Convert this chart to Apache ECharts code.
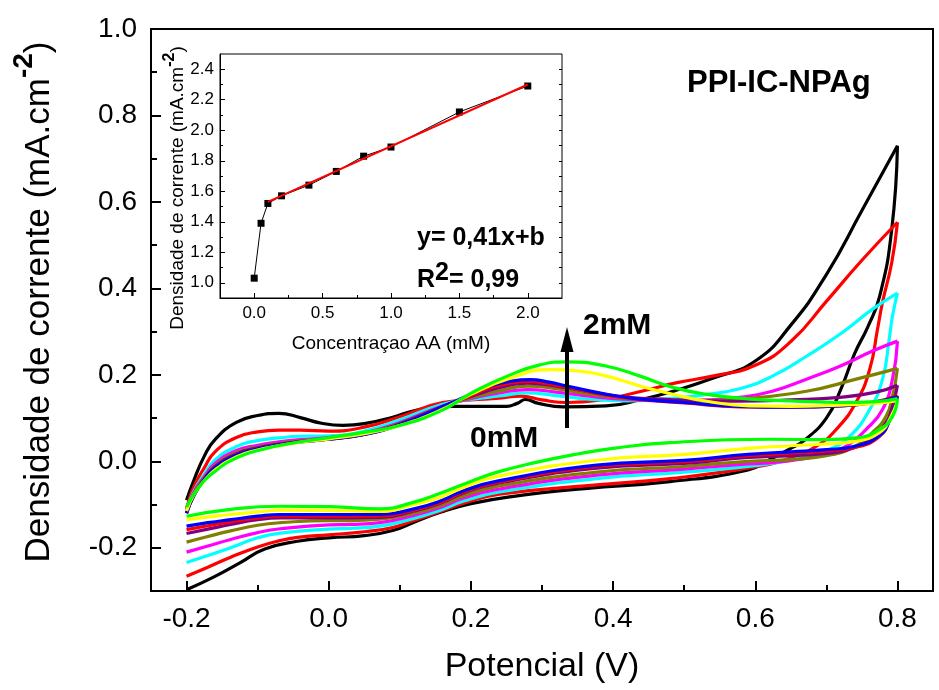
<!DOCTYPE html>
<html><head><meta charset="utf-8">
<script src="https://cdn.jsdelivr.net/npm/echarts@6/dist/echarts.min.js"></script>
<style>html,body{margin:0;padding:0;background:#fff}#c{width:939px;height:690px}</style>
</head><body><div id="c"></div>
<script>
// ---------- DATA ----------
const concentrationLabels = ['0 mM','0.05 mM','0.1 mM','0.2 mM','0.4 mM','0.6 mM','0.8 mM','1.0 mM','1.5 mM','2.0 mM'];

// forward (anodic) scans and reverse scans: [potential V, current density mA.cm-2]
const fwd0 = [[-0.2,-0.09],[-0.19,-0.045],[-0.175,0.012],[-0.16,0.05],[-0.13,0.09],[-0.1,0.106],[-0.07,0.111],[-0.04,0.101],[-0.01,0.088],[0.02,0.083],[0.05,0.087],[0.09,0.102],[0.12,0.117],[0.16,0.127],[0.2,0.127],[0.25,0.127],[0.265,0.134],[0.277,0.143],[0.295,0.134],[0.33,0.126],[0.39,0.128],[0.44,0.143],[0.49,0.165],[0.54,0.192],[0.6,0.232],[0.65,0.315],[0.7,0.432],[0.75,0.58],[0.8,0.73]];
const rev0 = [[0.8,0.73],[0.792,0.537],[0.775,0.382],[0.758,0.31],[0.74,0.25],[0.72,0.165],[0.7,0.1],[0.67,0.05],[0.648,0.028],[0.62,0.004],[0.59,-0.02],[0.48,-0.047],[0.36,-0.063],[0.26,-0.081],[0.2,-0.098],[0.157,-0.118],[0.12,-0.141],[0.09,-0.16],[0.05,-0.172],[0.0,-0.177],[-0.044,-0.185],[-0.09,-0.203],[-0.125,-0.235],[-0.162,-0.268],[-0.2,-0.297]];

const fwd005 = [[-0.2,-0.11],[-0.19,-0.06],[-0.175,-0.015],[-0.16,0.022],[-0.13,0.055],[-0.1,0.068],[-0.07,0.072],[-0.04,0.072],[0.0,0.07],[0.05,0.079],[0.1,0.103],[0.16,0.136],[0.2,0.142],[0.24,0.146],[0.27,0.151],[0.3,0.142],[0.335,0.136],[0.39,0.144],[0.44,0.162],[0.49,0.182],[0.54,0.197],[0.6,0.222],[0.65,0.277],[0.7,0.37],[0.75,0.465],[0.8,0.553]];
const rev005 = [[0.8,0.553],[0.792,0.46],[0.779,0.368],[0.772,0.306],[0.761,0.213],[0.742,0.137],[0.714,0.074],[0.686,0.035],[0.65,0.008],[0.6,-0.013],[0.48,-0.04],[0.36,-0.057],[0.24,-0.076],[0.19,-0.097],[0.157,-0.116],[0.12,-0.137],[0.09,-0.153],[0.05,-0.163],[0.0,-0.17],[-0.044,-0.176],[-0.07,-0.184],[-0.1,-0.198],[-0.138,-0.222],[-0.17,-0.245],[-0.2,-0.266]];

const fwd01 = [[-0.2,-0.115],[-0.19,-0.07],[-0.175,-0.03],[-0.16,0.003],[-0.13,0.034],[-0.1,0.048],[-0.07,0.054],[-0.04,0.058],[0.0,0.059],[0.05,0.07],[0.1,0.096],[0.16,0.132],[0.2,0.143],[0.24,0.151],[0.28,0.158],[0.32,0.152],[0.37,0.143],[0.42,0.14],[0.47,0.144],[0.52,0.152],[0.578,0.168],[0.624,0.197],[0.672,0.243],[0.72,0.295],[0.765,0.352],[0.8,0.389]];
const rev01 = [[0.8,0.389],[0.793,0.336],[0.789,0.29],[0.779,0.19],[0.761,0.12],[0.733,0.058],[0.705,0.028],[0.66,0.006],[0.6,-0.01],[0.5,-0.025],[0.377,-0.04],[0.24,-0.071],[0.19,-0.092],[0.157,-0.113],[0.12,-0.132],[0.072,-0.15],[0.03,-0.155],[0.0,-0.157],[-0.068,-0.166],[-0.1,-0.177],[-0.138,-0.2],[-0.17,-0.218],[-0.2,-0.234]];

const fwd02 = [[-0.2,-0.115],[-0.19,-0.072],[-0.175,-0.035],[-0.16,-0.005],[-0.13,0.025],[-0.1,0.037],[-0.07,0.045],[-0.04,0.05],[0.0,0.055],[0.05,0.066],[0.1,0.09],[0.16,0.128],[0.2,0.145],[0.24,0.158],[0.28,0.166],[0.32,0.16],[0.37,0.15],[0.42,0.143],[0.48,0.14],[0.53,0.142],[0.578,0.148],[0.624,0.162],[0.672,0.19],[0.719,0.22],[0.765,0.255],[0.8,0.278]];
const rev02 = [[0.8,0.278],[0.793,0.19],[0.779,0.12],[0.756,0.074],[0.728,0.035],[0.69,0.013],[0.63,-0.002],[0.59,-0.006],[0.5,-0.018],[0.377,-0.032],[0.237,-0.065],[0.19,-0.085],[0.157,-0.107],[0.12,-0.125],[0.072,-0.142],[0.03,-0.146],[0.0,-0.147],[-0.068,-0.156],[-0.1,-0.165],[-0.138,-0.181],[-0.17,-0.196],[-0.2,-0.21]];

const fwd04 = [[-0.2,-0.118],[-0.19,-0.075],[-0.175,-0.038],[-0.16,-0.01],[-0.13,0.02],[-0.1,0.033],[-0.07,0.041],[-0.04,0.047],[0.0,0.053],[0.05,0.064],[0.1,0.088],[0.16,0.127],[0.2,0.147],[0.24,0.163],[0.28,0.174],[0.32,0.168],[0.37,0.155],[0.42,0.145],[0.48,0.14],[0.53,0.14],[0.578,0.144],[0.672,0.162],[0.742,0.19],[0.8,0.215]];
const rev04 = [[0.8,0.215],[0.793,0.15],[0.784,0.104],[0.765,0.067],[0.737,0.032],[0.7,0.013],[0.65,0.004],[0.59,0.0],[0.5,-0.012],[0.377,-0.025],[0.237,-0.058],[0.19,-0.08],[0.157,-0.102],[0.12,-0.12],[0.072,-0.134],[0.03,-0.137],[0.0,-0.137],[-0.068,-0.142],[-0.1,-0.148],[-0.138,-0.161],[-0.17,-0.174],[-0.2,-0.187]];

const fwd06 = [[-0.2,-0.12],[-0.19,-0.078],[-0.175,-0.04],[-0.16,-0.012],[-0.13,0.017],[-0.1,0.031],[-0.07,0.04],[-0.04,0.046],[0.0,0.052],[0.05,0.063],[0.1,0.087],[0.16,0.127],[0.2,0.15],[0.24,0.17],[0.28,0.181],[0.32,0.174],[0.37,0.16],[0.42,0.148],[0.48,0.143],[0.53,0.14],[0.578,0.139],[0.65,0.142],[0.719,0.148],[0.77,0.16],[0.8,0.176]];
const rev06 = [[0.8,0.176],[0.793,0.127],[0.784,0.09],[0.765,0.058],[0.737,0.03],[0.7,0.018],[0.65,0.013],[0.59,0.009],[0.5,-0.005],[0.377,-0.016],[0.237,-0.051],[0.19,-0.073],[0.157,-0.097],[0.12,-0.115],[0.072,-0.13],[0.03,-0.131],[0.0,-0.131],[-0.068,-0.131],[-0.1,-0.135],[-0.138,-0.146],[-0.17,-0.157],[-0.2,-0.167]];

const fwd08 = [[-0.2,-0.12],[-0.19,-0.08],[-0.175,-0.042],[-0.16,-0.015],[-0.13,0.014],[-0.1,0.029],[-0.07,0.038],[-0.04,0.045],[0.0,0.051],[0.05,0.062],[0.1,0.085],[0.16,0.125],[0.2,0.152],[0.227,0.17],[0.255,0.181],[0.283,0.185],[0.31,0.179],[0.335,0.171],[0.391,0.153],[0.438,0.143],[0.5,0.135],[0.578,0.126],[0.65,0.125],[0.719,0.128],[0.77,0.138],[0.8,0.152]];
const rev08 = [[0.8,0.152],[0.79,0.1],[0.775,0.058],[0.74,0.032],[0.7,0.024],[0.65,0.019],[0.59,0.013],[0.5,-0.001],[0.377,-0.012],[0.237,-0.049],[0.19,-0.071],[0.157,-0.095],[0.12,-0.113],[0.072,-0.126],[0.03,-0.126],[0.0,-0.126],[-0.068,-0.126],[-0.1,-0.131],[-0.138,-0.14],[-0.17,-0.149],[-0.2,-0.158]];

const fwd10 = [[-0.2,-0.12],[-0.19,-0.08],[-0.175,-0.042],[-0.16,-0.015],[-0.13,0.014],[-0.1,0.029],[-0.07,0.038],[-0.04,0.045],[0.0,0.051],[0.05,0.062],[0.1,0.085],[0.16,0.126],[0.2,0.155],[0.227,0.174],[0.255,0.185],[0.283,0.189],[0.31,0.183],[0.335,0.174],[0.391,0.155],[0.438,0.144],[0.5,0.136],[0.578,0.127],[0.65,0.125],[0.719,0.128],[0.77,0.137],[0.8,0.15]];
const rev10 = [[0.8,0.15],[0.79,0.1],[0.775,0.06],[0.74,0.035],[0.7,0.027],[0.65,0.022],[0.59,0.016],[0.5,0.002],[0.377,-0.009],[0.237,-0.046],[0.19,-0.068],[0.157,-0.092],[0.12,-0.11],[0.072,-0.123],[0.03,-0.123],[0.0,-0.123],[-0.068,-0.123],[-0.1,-0.127],[-0.138,-0.135],[-0.17,-0.142],[-0.2,-0.15]];

const fwd15 = [[-0.2,-0.115],[-0.19,-0.078],[-0.175,-0.045],[-0.16,-0.02],[-0.13,0.01],[-0.1,0.026],[-0.07,0.036],[-0.04,0.044],[0.0,0.052],[0.05,0.064],[0.1,0.083],[0.157,0.118],[0.2,0.155],[0.251,0.19],[0.311,0.212],[0.35,0.209],[0.391,0.197],[0.438,0.174],[0.484,0.155],[0.532,0.139],[0.592,0.128],[0.65,0.127],[0.719,0.13],[0.77,0.134],[0.8,0.14]];
const rev15 = [[0.8,0.14],[0.79,0.1],[0.775,0.067],[0.74,0.046],[0.7,0.04],[0.65,0.036],[0.59,0.03],[0.5,0.016],[0.38,0.003],[0.237,-0.035],[0.19,-0.06],[0.157,-0.083],[0.12,-0.1],[0.072,-0.116],[0.03,-0.115],[0.0,-0.114],[-0.068,-0.113],[-0.1,-0.117],[-0.138,-0.123],[-0.17,-0.129],[-0.2,-0.135]];

const fwd20 = [[-0.2,-0.106],[-0.185,-0.065],[-0.162,-0.026],[-0.128,0.009],[-0.092,0.028],[-0.044,0.044],[0.002,0.055],[0.049,0.067],[0.096,0.081],[0.157,0.116],[0.203,0.16],[0.251,0.197],[0.297,0.223],[0.335,0.23],[0.391,0.22],[0.438,0.197],[0.484,0.171],[0.532,0.155],[0.592,0.144],[0.65,0.14],[0.719,0.136],[0.77,0.138],[0.8,0.145]];
const rev20 = [[0.8,0.145],[0.793,0.104],[0.775,0.074],[0.742,0.054],[0.7,0.05],[0.62,0.051],[0.48,0.043],[0.4,0.03],[0.35,0.017],[0.29,-0.003],[0.237,-0.025],[0.199,-0.047],[0.157,-0.074],[0.119,-0.095],[0.072,-0.11],[0.002,-0.105],[-0.068,-0.104],[-0.138,-0.111],[-0.2,-0.127]];

// inset: current vs ascorbic acid concentration
const aaConc = [0, 0.05, 0.1, 0.2, 0.4, 0.6, 0.8, 1.0, 1.5, 2.0];
const peakCurrent = [1.03, 1.39, 1.52, 1.57, 1.64, 1.73, 1.83, 1.89, 2.12, 2.29];
const fitLine = [[0.1, 1.53], [2.0, 2.30]];

// tick values
const mainXMajor = [-0.2, 0.0, 0.2, 0.4, 0.6, 0.8];
const mainXMinor = [-0.1, 0.1, 0.3, 0.5, 0.7];
const mainYMajor = [-0.2, 0.0, 0.2, 0.4, 0.6, 0.8, 1.0];
const mainYMinor = [-0.1, 0.1, 0.3, 0.5, 0.7, 0.9];
const insetXMajor = [0.0, 0.5, 1.0, 1.5, 2.0];
const insetXMinor = [0.25, 0.75, 1.25, 1.75];
const insetYMajor = [1.0, 1.2, 1.4, 1.6, 1.8, 2.0, 2.2, 2.4];
const insetYMinor = [1.1, 1.3, 1.5, 1.7, 1.9, 2.1, 2.3];

// ---------- STYLE ----------
const cvColors = ['#000000','#ff0000','#00ffff','#ff00ff','#808000','#800080','#ff0000','#0000ff','#ffff00','#00ff00'];
const F = "'Liberation Sans', Arial, Helvetica, sans-serif";

const cvFwd = [fwd0, fwd005, fwd01, fwd02, fwd04, fwd06, fwd08, fwd10, fwd15, fwd20];
const cvRev = [rev0, rev005, rev01, rev02, rev04, rev06, rev08, rev10, rev15, rev20];

const series = [];
cvFwd.forEach((d, i) => {
  [d, cvRev[i]].forEach(branch => {
    series.push({
      type: 'line', name: concentrationLabels[i], xAxisIndex: 0, yAxisIndex: 0,
      data: branch, smooth: 0.5, showSymbol: false, symbol: 'none',
      lineStyle: { color: cvColors[i], width: 3.2, join: 'round' }, itemStyle: { color: cvColors[i] },
      silent: true
    });
  });
});
series.push({
  type: 'line', xAxisIndex: 2, yAxisIndex: 2,
  data: aaConc.map((c, i) => [c, peakCurrent[i]]),
  symbol: 'rect', symbolSize: 7, lineStyle: { color: '#000', width: 1 }, itemStyle: { color: '#000' }, z: 5
});
series.push({
  type: 'line', xAxisIndex: 2, yAxisIndex: 2, data: fitLine, symbol: 'none',
  lineStyle: { color: '#ff0000', width: 2 }, z: 6
});

const fmt1 = v => v.toFixed(1);
const hiddenLine = { show: false, onZero: false };
function axis(extra) {
  return Object.assign({
    type: 'value', splitLine: { show: false },
    axisLine: { show: true, onZero: false, lineStyle: { color: '#000', width: 2 } },
  }, extra);
}

const option = {
  animation: false,
  backgroundColor: '#fff',
  grid: [
    { left: 151, top: 29, right: 6, bottom: 99, show: true, borderColor: '#000', borderWidth: 2, containLabel: false },
    { left: 220, top: 54, right: 377, bottom: 392, show: true, borderColor: '#000', borderWidth: 1, backgroundColor: '#fff', containLabel: false }
  ],
  xAxis: [
    axis({ gridIndex: 0, position: 'bottom', min: -0.25, max: 0.85,
      axisTick: { show: true, inside: true, length: 10, lineStyle: { width: 2, color: '#000' }, customValues: mainXMajor },
      axisLabel: { customValues: mainXMajor, formatter: fmt1, fontSize: 28, fontFamily: F, color: '#000', margin: 14 } }),
    axis({ gridIndex: 0, position: 'bottom', min: -0.25, max: 0.85, axisLine: hiddenLine,
      axisTick: { show: true, inside: true, length: 6, lineStyle: { width: 2, color: '#000' }, customValues: mainXMinor },
      axisLabel: { show: false } }),
    axis({ gridIndex: 1, position: 'bottom', min: -0.25, max: 2.25, axisLine: { show: true, onZero: false, lineStyle: { color: '#000', width: 1 } },
      axisTick: { show: true, inside: true, length: 5, lineStyle: { width: 1, color: '#000' }, customValues: insetXMajor },
      axisLabel: { customValues: insetXMajor, formatter: fmt1, fontSize: 17, fontFamily: F, color: '#000', margin: 7 } }),
    axis({ gridIndex: 1, position: 'bottom', min: -0.25, max: 2.25, axisLine: hiddenLine,
      axisTick: { show: true, inside: true, length: 3, lineStyle: { width: 1, color: '#000' }, customValues: insetXMinor },
      axisLabel: { show: false } })
  ],
  yAxis: [
    axis({ gridIndex: 0, position: 'left', min: -0.3, max: 1.0,
      axisTick: { show: true, inside: true, length: 10, lineStyle: { width: 2, color: '#000' }, customValues: mainYMajor },
      axisLabel: { customValues: mainYMajor, formatter: fmt1, fontSize: 28, fontFamily: F, color: '#000', margin: 14 } }),
    axis({ gridIndex: 0, position: 'left', min: -0.3, max: 1.0, axisLine: hiddenLine,
      axisTick: { show: true, inside: true, length: 6, lineStyle: { width: 2, color: '#000' }, customValues: mainYMinor },
      axisLabel: { show: false } }),
    axis({ gridIndex: 1, position: 'left', min: 0.9, max: 2.5, axisLine: { show: true, onZero: false, lineStyle: { color: '#000', width: 1 } },
      axisTick: { show: true, inside: true, length: 5, lineStyle: { width: 1, color: '#000' }, customValues: insetYMajor },
      axisLabel: { customValues: insetYMajor, formatter: fmt1, fontSize: 17, fontFamily: F, color: '#000', margin: 6 } }),
    axis({ gridIndex: 1, position: 'left', min: 0.9, max: 2.5, axisLine: hiddenLine,
      axisTick: { show: true, inside: true, length: 3, lineStyle: { width: 1, color: '#000' }, customValues: insetYMinor },
      axisLabel: { show: false } }),
    axis({ gridIndex: 1, position: 'right', min: 0.9, max: 2.5, axisLine: hiddenLine,
      axisTick: { show: true, inside: true, length: 3, lineStyle: { width: 1, color: '#000' }, customValues: insetYMajor.concat(insetYMinor) },
      axisLabel: { show: false } })
  ],
  series: series,
  graphic: [
    { type: 'text', x: 39, y: 302, rotation: Math.PI / 2, z: 100,
      style: { text: '{a|Densidade de corrente (mA.cm}{s|-2}{a|)}', align: 'center', verticalAlign: 'middle',
        rich: { a: { fontSize: 35, fontFamily: F, fill: '#000', verticalAlign: 'middle' },
                s: { fontSize: 28, fontWeight: 'bold', fontFamily: F, fill: '#000', padding: [0, 0, 30, 0] } } } },
    { type: 'text', x: 542, y: 667, z: 100,
      style: { text: 'Potencial (V)', fontSize: 34, fontFamily: F, fill: '#000', align: 'center', verticalAlign: 'middle' } },
    { type: 'text', x: 178, y: 188, rotation: Math.PI / 2, z: 100,
      style: { text: '{a|Densidade de corrente (mA.cm}{s|-2}{a|)}', align: 'center', verticalAlign: 'middle',
        rich: { a: { fontSize: 19, fontFamily: F, fill: '#000', verticalAlign: 'middle' },
                s: { fontSize: 16, fontWeight: 'bold', fontFamily: F, fill: '#000', padding: [0, 0, 16, 0] } } } },
    { type: 'text', x: 391, y: 344, z: 100,
      style: { text: 'Concentraçao AA (mM)', fontSize: 19, fontFamily: F, fill: '#000', align: 'center', verticalAlign: 'middle' } },
    { type: 'text', x: 687, y: 83, z: 100,
      style: { text: 'PPI-IC-NPAg', fontSize: 31, fontWeight: 'bold', fontFamily: F, fill: '#000', align: 'left', verticalAlign: 'middle' } },
    { type: 'text', x: 417, y: 238, z: 100,
      style: { text: 'y= 0,41x+b', fontSize: 25, fontWeight: 'bold', fontFamily: F, fill: '#000', align: 'left', verticalAlign: 'middle' } },
    { type: 'text', x: 417, y: 280, z: 100,
      style: { text: '{b|R}{s|2}{b|= 0,99}', align: 'left', verticalAlign: 'middle',
        rich: { b: { fontSize: 25, fontWeight: 'bold', fontFamily: F, fill: '#000', verticalAlign: 'middle' },
                s: { fontSize: 25, fontWeight: 'bold', fontFamily: F, fill: '#000', padding: [0, 0, 14, 0] } } } },
    { type: 'text', x: 583, y: 326, z: 100,
      style: { text: '2mM', fontSize: 30, fontWeight: 'bold', fontFamily: F, fill: '#000', align: 'left', verticalAlign: 'middle' } },
    { type: 'text', x: 470, y: 439, z: 100,
      style: { text: '0mM', fontSize: 30, fontWeight: 'bold', fontFamily: F, fill: '#000', align: 'left', verticalAlign: 'middle' } },
    { type: 'line', z: 100, shape: { x1: 567, y1: 428, x2: 567, y2: 345 }, style: { stroke: '#000', lineWidth: 4 } },
    { type: 'polygon', z: 100, shape: { points: [[567, 327], [560.5, 352], [573.5, 352]] }, style: { fill: '#000' } }
  ]
};

const chart = echarts.init(document.getElementById('c'), null, { renderer: 'canvas' });
chart.setOption(option);
</script>
</body></html>
